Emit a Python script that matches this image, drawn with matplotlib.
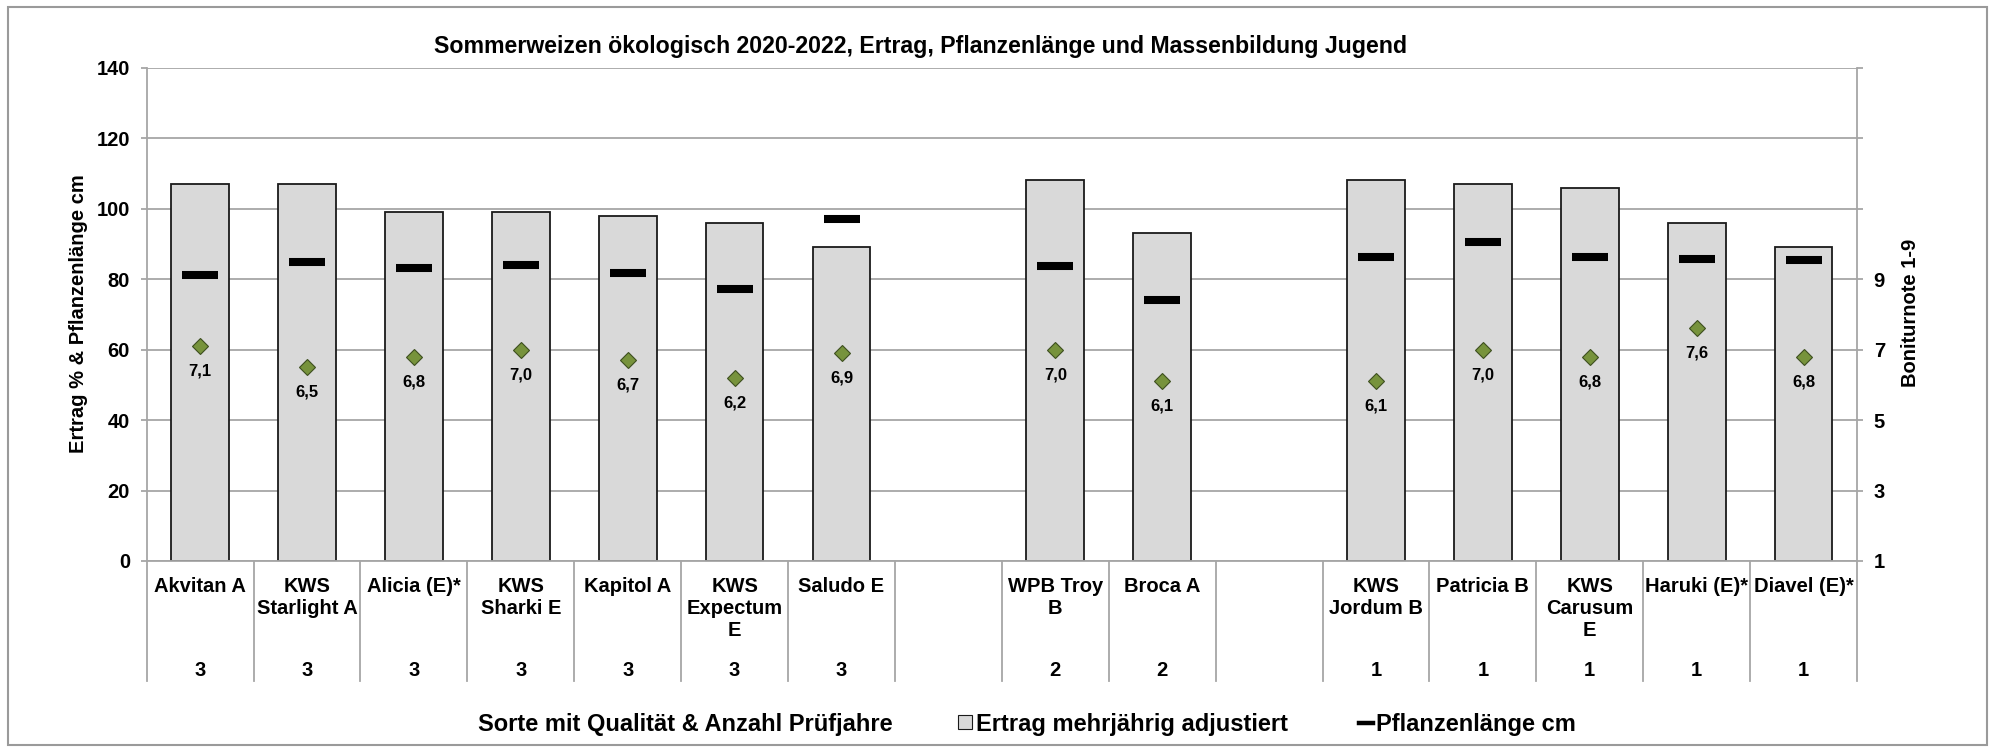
import matplotlib
matplotlib.use("Agg")
import matplotlib.pyplot as plt
from matplotlib.patches import Rectangle, Patch
from matplotlib.lines import Line2D
from matplotlib.transforms import blended_transform_factory

# --- data -------------------------------------------------------------
gruppen = [
    ['Akvitan A', 'KWS\nStarlight A', 'Alicia (E)*', 'KWS\nSharki E',
     'Kapitol A', 'KWS\nExpectum\nE', 'Saludo E'],
    ['WPB Troy\nB', 'Broca A'],
    ['KWS\nJordum B', 'Patricia B', 'KWS\nCarusum\nE', 'Haruki (E)*',
     'Diavel (E)*'],
]
pruefjahre = [3, 3, 3, 3, 3, 3, 3, 2, 2, 1, 1, 1, 1, 1]
ertrag = [107, 107, 99, 99, 98, 96, 89, 108, 93, 108, 107, 106, 96, 89]
laenge = [81.3, 84.8, 83.1, 83.9, 81.8, 77.2, 97.2, 83.8, 74.2, 86.2,
          90.6, 86.2, 85.7, 85.5]
bonitur = [7.1, 6.5, 6.8, 7.0, 6.7, 6.2, 6.9, 7.0, 6.1, 6.1, 7.0, 6.8,
           7.6, 6.8]
left_ticks = [0, 20, 40, 60, 80, 100, 120, 140]
right_ticks = [1, 3, 5, 7, 9, 11, 13, 15]
right_ticklabels = ['1', '3', '5', '7', '9', '', '', '']

titel = ('Sommerweizen ökologisch 2020-2022, Ertrag, Pflanzenlänge und '
         'Massenbildung Jugend')

# slot positions: one empty slot between groups
sorten, pos = [], []
slot = 0
for g in gruppen:
    for s in g:
        sorten.append(s)
        pos.append(slot)
        slot += 1
    slot += 1
n_slots = slot - 1

plt.rcParams['font.family'] = ['Liberation Sans', 'DejaVu Sans']
plt.rcParams['font.weight'] = 'bold'

W, H = 1993, 748
fig = plt.figure(figsize=(W / 100, H / 100), dpi=100)
ax = fig.add_axes([146.7 / W, 1 - 561 / H, (1857 - 146.7) / W, (561 - 67.7) / H])

grey = '#a6a6a6'
ax.bar(pos, ertrag, width=0.54, color='#d9d9d9', edgecolor='#1a1a1a',
       linewidth=1.3, zorder=2)
ax.plot(pos, laenge, ls='none', marker='_', ms=26.5, mew=5.8,
        color='black', zorder=3)

ax.set_xlim(-0.5, n_slots - 0.5)
ax.set_ylim(0, 140)
ax.set_yticks(left_ticks)
ax.yaxis.grid(True, color=grey, lw=1.3)
ax.set_axisbelow(True)
ax.set_xticks([])
for sp in ['top', 'right']:
    ax.spines[sp].set_visible(False)
for sp in ['left', 'bottom']:
    ax.spines[sp].set_color(grey)
    ax.spines[sp].set_linewidth(1.3)
ax.tick_params(axis='y', length=4, width=1.3, color=grey, pad=8,
               labelsize=14.5)

ax2 = ax.twinx()
ax2.set_ylim(1, 15)
ax2.set_yticks(right_ticks)
ax2.set_yticklabels(right_ticklabels)
ax2.tick_params(axis='y', length=4, width=1.3, color=grey, pad=8,
                labelsize=14.5)
for sp in ['top', 'left', 'bottom']:
    ax2.spines[sp].set_visible(False)
ax2.spines['right'].set_color(grey)
ax2.spines['right'].set_linewidth(1.3)
ax2.plot(pos, bonitur, ls='none', marker='D', ms=8, mfc='#77933c',
         mec='#3d4f1f', mew=0.8, zorder=4)
for x, v in zip(pos, bonitur):
    ax2.annotate(f'{v:.1f}'.replace('.', ','), (x, v), xytext=(0, -18),
                 textcoords='offset points', ha='center', va='center',
                 fontsize=12)

# table below the axis
tr = blended_transform_factory(ax.transData, ax.transAxes)
for b in range(n_slots + 1):
    ax.plot([b - 0.5, b - 0.5], [0, -0.2433], transform=tr, color=grey,
            lw=1.3, clip_on=False)
for x, s, j in zip(pos, sorten, pruefjahre):
    ax.text(x, -0.032, s, transform=tr, ha='center', va='top',
            fontsize=14.5, linespacing=1.2)
    ax.text(x, -0.221, str(j), transform=tr, ha='center', va='center',
            fontsize=14.5)

fig.text(921 / W, 1 - 46.7 / H, titel, ha='center', va='center',
         fontsize=16.7)
fig.text(79 / W, 1 - 314 / H, 'Ertrag % & Pflanzenlänge cm', rotation=90,
         ha='center', va='center', fontsize=14.5)
fig.text(1910 / W, 1 - 313 / H, 'Boniturnote 1-9', rotation=90,
         ha='center', va='center', fontsize=14.5)
fig.text(685.5 / W, 1 - 724 / H, 'Sorte mit Qualität & Anzahl Prüfjahre',
         ha='center', va='center', fontsize=17)

handles = [Patch(facecolor='#d9d9d9', edgecolor='#1a1a1a', lw=0.8),
           Line2D([], [], color='black', lw=3.2)]
fig.legend(handles, ['Ertrag mehrjährig adjustiert', 'Pflanzenlänge cm'],
           loc='center left', bbox_to_anchor=(958 / W, 1 - 724 / H),
           ncol=2, frameon=False, fontsize=17, handlelength=0.6,
           handleheight=0.55, handletextpad=0.15, columnspacing=3.0,
           borderpad=0, borderaxespad=0)

fig.patches.append(Rectangle((8 / W, 3 / H), (1987 - 8) / W, (741 - 3) / H,
                             transform=fig.transFigure, fill=False,
                             edgecolor='#9a9a9a', lw=1.5))

fig.savefig('out.png', dpi=100)
